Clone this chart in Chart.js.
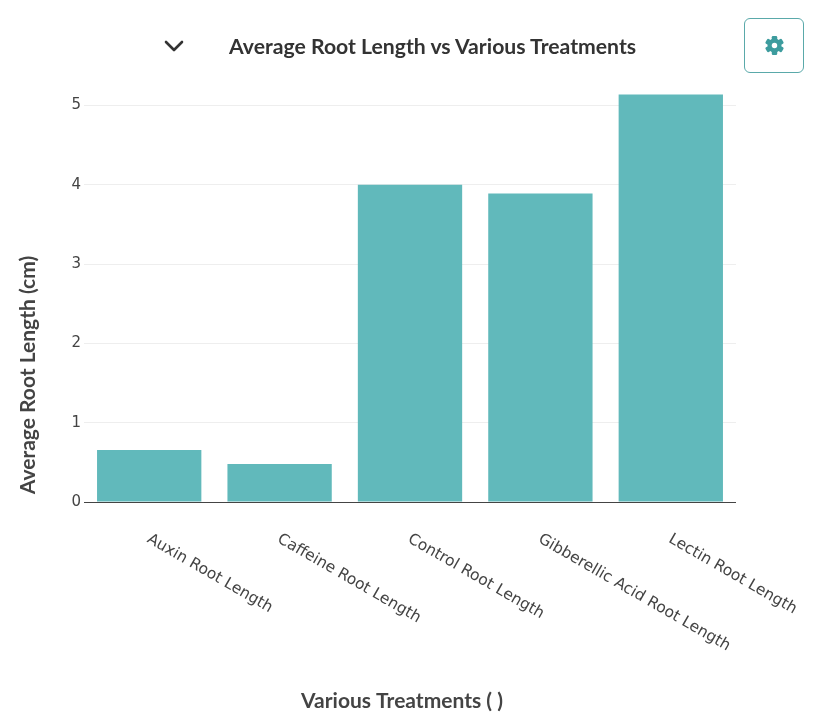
<!DOCTYPE html>
<html>
<head>
<meta charset="utf-8">
<title>Average Root Length vs Various Treatments</title>
<script src="https://cdn.jsdelivr.net/npm/chart.js@4.4.1/dist/chart.umd.min.js"></script>
<style>
  html, body { margin: 0; padding: 0; background: #fff; }
  #wrap { position: relative; width: 818px; height: 716px; overflow: hidden; }
  #chart { position: absolute; left: 0; top: 0; }
  #chevron { position: absolute; left: 164px; top: 39px; }
  #title {
    position: absolute; left: 229px; top: 33px;
    font: 700 21.2px Lato, sans-serif; color: #333; white-space: nowrap;
    line-height: 26px;
  }
  #gear {
    position: absolute; left: 744px; top: 18px; width: 60px; height: 55px;
    border: 1px solid #5aa9aa; border-radius: 6px; box-sizing: border-box;
    display: flex; align-items: center; justify-content: center;
  }
</style>
</head>
<body>
<div id="wrap">
  <canvas id="chart" width="818" height="716"></canvas>
  <svg id="chevron" width="20" height="14" viewBox="0 0 20 14">
    <polyline points="2,3 10,11 18,3" fill="none" stroke="#333" stroke-width="2.6" stroke-linecap="round" stroke-linejoin="round"/>
  </svg>
  <div id="title">Average Root Length vs Various Treatments</div>
  <div id="gear">
    <svg width="21" height="21" viewBox="-10 -10 20 20">
      <g fill="#3d9c9e">
        <rect x="-2.6" y="-9" width="5.2" height="18" rx="1.2"/>
        <rect x="-2.6" y="-9" width="5.2" height="18" rx="1.2" transform="rotate(60)"/>
        <rect x="-2.6" y="-9" width="5.2" height="18" rx="1.2" transform="rotate(120)"/>
        <circle r="6.6"/>
      </g>
      <circle r="2.6" fill="#fff"/>
    </svg>
  </div>
</div>
<script>
// valeurs
const categories = [
  'Auxin Root Length',
  'Caffeine Root Length',
  'Control Root Length',
  'Gibberellic Acid Root Length',
  'Lectin Root Length'
];
const rootLengths = [0.655, 0.478, 4.0, 3.89, 5.14];
const yTicks = [0, 1, 2, 3, 4, 5];
const yTitle = 'Average Root Length (cm)';
const xTitle = 'Various Treatments ( )';

const tickFont = '15.5px "DejaVu Sans", Verdana, sans-serif';

// étiquettes inclinées + titres des axes
const labelsPlugin = {
  id: 'labelsPlugin',
  afterDraw(chart) {
    const ctx = chart.ctx;
    const xs = chart.scales.x;
    ctx.save();
    ctx.fillStyle = '#444';
    ctx.font = tickFont;
    ctx.textAlign = 'left';
    ctx.textBaseline = 'middle';
    categories.forEach((c, i) => {
      const x = xs.getPixelForTick(i);
      ctx.save();
      ctx.translate(x - 1, 538);
      ctx.rotate(Math.PI / 6);
      ctx.fillText(c, 0, 0);
      ctx.restore();
    });

    ctx.font = '700 21px Lato, sans-serif';
    ctx.textAlign = 'center';
    ctx.save();
    ctx.translate(28, 375);
    ctx.rotate(-Math.PI / 2);
    ctx.fillText(yTitle, 0, 0);
    ctx.restore();

    ctx.font = '700 21px Lato, sans-serif';
    ctx.fillText(xTitle, 402, 701);
    ctx.restore();
  }
};

new Chart(document.getElementById('chart'), {
  type: 'bar',
  data: {
    labels: categories,
    datasets: [{
      data: rootLengths,
      backgroundColor: '#61b9bb',
      borderWidth: 0,
      barPercentage: 0.8,
      categoryPercentage: 1.0
    }]
  },
  options: {
    responsive: false,
    animation: false,
    devicePixelRatio: 1,
    layout: { padding: { left: 0, top: 73, right: 82, bottom: 0 } },
    plugins: {
      legend: { display: false },
      tooltip: { enabled: false }
    },
    scales: {
      x: {
        offset: true,
        grid: { display: false },
        border: { display: false },
        ticks: { display: false },
        afterFit(scale) { scale.height = 214; }
      },
      y: {
        min: 0,
        max: 5.41,
        border: { display: false },
        grid: {
          drawTicks: false,
          color: ctx => ctx.tick.value === 0 ? '#444' : '#eeeeee',
          lineWidth: 1
        },
        ticks: {
          padding: 3,
          color: '#444',
          font: { family: '"DejaVu Sans", Verdana, sans-serif', size: 15 }
        },
        afterBuildTicks(scale) { scale.ticks = yTicks.map(v => ({ value: v })); },
        afterFit(scale) { scale.width = 84; }
      }
    }
  },
  plugins: [labelsPlugin]
});
</script>
</body>
</html>
